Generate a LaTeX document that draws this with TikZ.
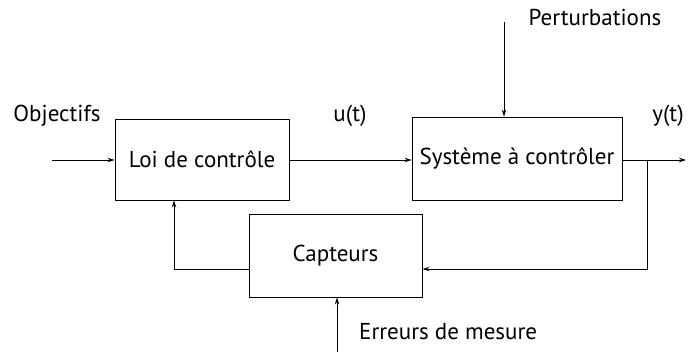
\documentclass[tikz,border=0pt]{standalone}
\usepackage{fontspec}
\setmainfont{PT Sans}
\usetikzlibrary{arrows.meta}
\begin{document}
\begin{tikzpicture}[x=1pt,y=-1pt,
  every node/.style={font=\fontsize{23}{26}\selectfont},
  blk/.style={draw, line width=0.9pt, inner sep=0pt},
  lbl/.style={inner sep=0pt},
  conn/.style={line width=0.9pt},
  arr/.style={conn, -{Stealth[length=7pt,width=4.5pt]}}]
\useasboundingbox (0,0) rectangle (688,352);
\node[blk, minimum width=174pt, minimum height=81pt] (loi) at (202,159.5) {Loi de contrôle};
\node[blk, minimum width=210pt, minimum height=83pt] (sys) at (517,158.5) {Système à contrôler};
\node[blk, minimum width=173pt, minimum height=83pt] (cap) at (335.5,255.5) {Capteurs};
\node[lbl] (obj) at (57,116) {Objectifs};
\node[lbl] (u) at (350,116) {u(t)};
\node[lbl] (y) at (668,116) {y(t)};
\node[lbl] (pert) at (595,18) {Perturbations};
\node[lbl, anchor=west] (err) at (359,332) {Erreurs de mesure};
\coordinate (in) at (52,160);
\coordinate (out) at (686,160);
\coordinate (br) at (647,160);
\coordinate (ptop) at (504,22);
\coordinate (ebot) at (337,352);
\draw[arr] (in) -- (loi.west |- in);
\draw[arr] (loi.east |- in) -- (sys.west |- in);
\draw[arr] (sys.east |- in) -- (out);
\draw[arr] (ptop) -- (ptop |- sys.north);
\draw[arr] (br) |- (cap.east |- 0,269);
\draw[arr] (cap.west |- 0,269) -| (174,0 |- loi.south);
\draw[arr] (ebot) -- (ebot |- cap.south);
\end{tikzpicture}
\end{document}
